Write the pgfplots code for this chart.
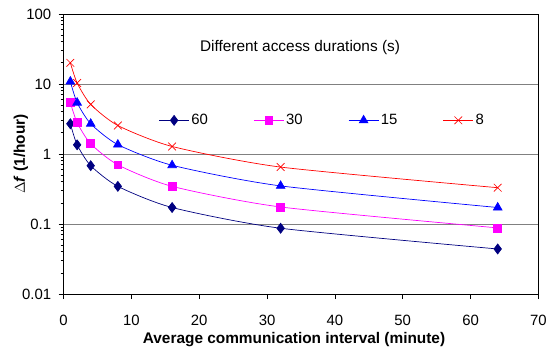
\documentclass[border=0pt]{standalone}
\usepackage{pgfplots}
\pgfplotsset{compat=1.18}
\usepackage{fontspec}
\setmainfont{Liberation Sans}
\definecolor{navyc}{RGB}{0,0,128}
\definecolor{magc}{RGB}{255,0,255}
\definecolor{bluec}{RGB}{0,0,255}
\definecolor{redc}{RGB}{255,0,0}
\begin{document}
\begin{tikzpicture}
\begin{axis}[
  name=ax,
  scale only axis,
  width=478pt, height=282pt,
  xmin=0, xmax=70,
  ymode=log, ymin=0.01, ymax=100,
  xtick={0,10,...,70},
  ytick={0.01,0.1,1,10,100},
  yticklabels={0.01,0.1,1,10,100},
  /pgf/number format/assume math mode=true,
  minor tick num=0, minor ytick={},
  tick align=outside,
  xtick pos=bottom, ytick pos=left,
  major tick length=5pt,
  tick style={black, line width=0.8pt},
  ymajorgrids,
  grid style={gray, line width=0.8pt},
  axis line style={black, line width=0.8pt},
  ticklabel style={font=\fontsize{15}{17}\selectfont},
  xticklabel style={yshift=-22pt, anchor=center},
  yticklabel style={xshift=-4pt},
  xlabel={\textbf{Average communication interval (minute)}},
  ylabel={\textbf{$\Delta$\textit{f} (1/hour)}},
  label style={font=\fontsize{15.5}{17}\selectfont},
  xlabel style={at={(rel axis cs:0.5,0)}, anchor=center, yshift=-46pt, xshift=-7pt},
  ylabel style={at={(rel axis cs:0,0.5)}, anchor=center, yshift=43pt},
  legend columns=4,
  legend style={draw=none, fill=none, at={(0.545,0.62)}, anchor=center,
    font=\fontsize{15}{17}\selectfont,
    /tikz/every even column/.append style={column sep=44pt}},
  legend image code/.code={\draw[mark repeat=2,mark phase=2] plot coordinates {(0pt,0pt) (15pt,0pt) (30pt,0pt)};},
  every axis plot/.append style={line width=0.7pt},
]
\addplot[navyc, smooth, tension=0.4, mark=diamond*, mark size=5pt, mark options={fill=navyc}]
  coordinates {(1,2.7) (2,1.35) (4,0.68) (8,0.345) (16,0.172) (32,0.087) (64,0.044)};
\addlegendentry{60}
\addplot[magc, smooth, tension=0.4, mark=square*, mark size=4pt, mark options={fill=magc}]
  coordinates {(1,5.4) (2,2.8) (4,1.4) (8,0.7) (16,0.345) (32,0.175) (64,0.088)};
\addlegendentry{30}
\addplot[bluec, smooth, tension=0.4, mark=triangle*, mark size=5pt, mark options={fill=bluec}]
  coordinates {(1,10.8) (2,5.4) (4,2.7) (8,1.36) (16,0.69) (32,0.35) (64,0.172)};
\addlegendentry{15}
\addplot[redc, smooth, tension=0.4, mark=x, mark size=5.5pt]
  coordinates {(1,20) (2,10.3) (4,5.1) (8,2.55) (16,1.28) (32,0.65) (64,0.33)};
\addlegendentry{8}
\node[font=\fontsize{15.5}{17}\selectfont] at (rel axis cs:0.498,0.879) {Different access durations (s)};
\end{axis}
\path ([xshift=-64pt,yshift=14pt]ax.north west) rectangle ([xshift=8pt,yshift=-58pt]ax.south east);
\end{tikzpicture}
\end{document}
